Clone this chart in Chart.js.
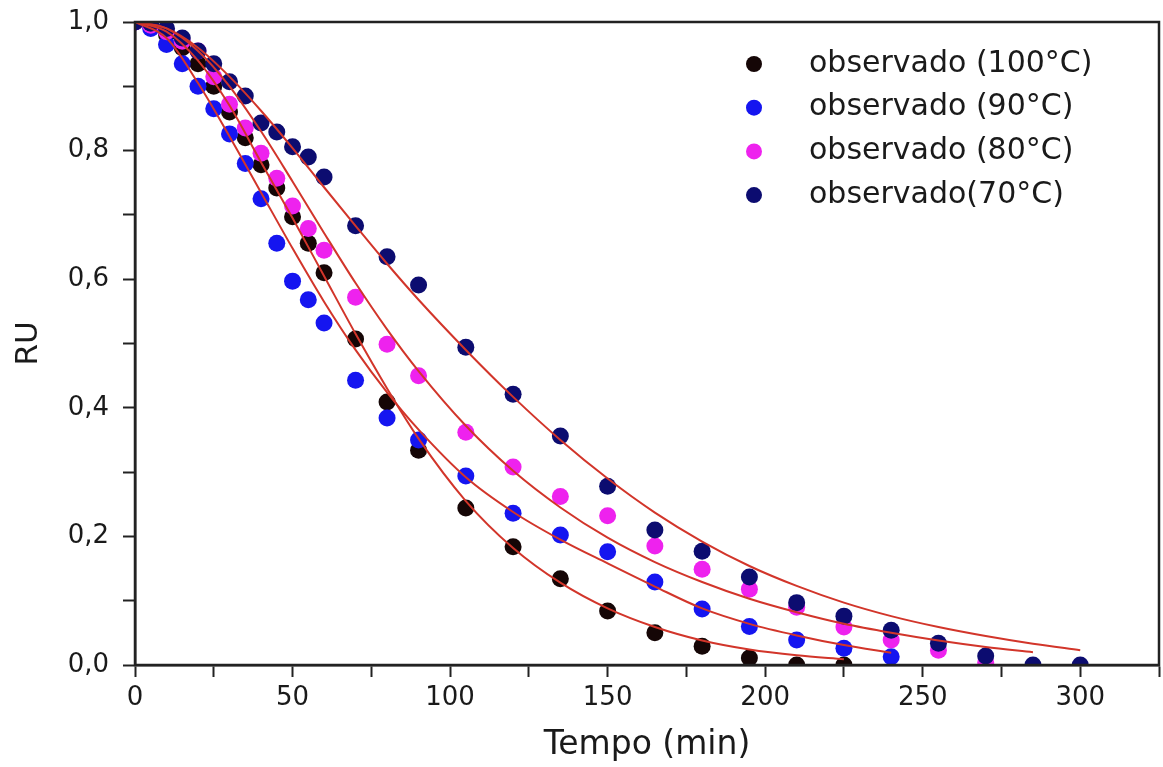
<!DOCTYPE html>
<html>
<head>
<meta charset="utf-8">
<script src="https://cdn.jsdelivr.net/npm/chart.js@4"></script>
<style>
  html, body { margin: 0; padding: 0; background: #ffffff; }
  #box { width: 1163px; height: 767px; position: relative; }
</style>
</head>
<body>
<div id="box"><canvas id="myChart"></canvas></div>
<script>
// observed drying points (RU) per time (min)
var tObs = [0, 5, 10, 15, 20, 25, 30, 35, 40, 45, 50, 55, 60, 70, 80, 90, 105, 120, 135, 150, 165, 180, 195, 210, 225, 240, 255, 270, 285, 300];
var obs100 = [1.0, 0.995, 0.98, 0.96, 0.935, 0.9, 0.86, 0.82, 0.778, 0.742, 0.697, 0.656, 0.61, 0.507, 0.409, 0.334, 0.244, 0.184, 0.134, 0.084, 0.05, 0.029, 0.011, 0.0, 0.0];
var obs90 = [1.0, 0.99, 0.965, 0.935, 0.9, 0.865, 0.826, 0.78, 0.725, 0.656, 0.597, 0.568, 0.532, 0.443, 0.384, 0.35, 0.294, 0.236, 0.202, 0.176, 0.129, 0.087, 0.06, 0.039, 0.026, 0.013];
var obs80 = [1.0, 0.995, 0.985, 0.97, 0.955, 0.915, 0.872, 0.835, 0.796, 0.757, 0.714, 0.679, 0.645, 0.572, 0.499, 0.45, 0.362, 0.308, 0.262, 0.232, 0.185, 0.149, 0.118, 0.09, 0.059, 0.039, 0.023, 0.004];
var obs70 = [1.0, 0.998, 0.99, 0.975, 0.955, 0.935, 0.907, 0.885, 0.843, 0.829, 0.806, 0.79, 0.759, 0.683, 0.635, 0.591, 0.494, 0.421, 0.356, 0.278, 0.21, 0.177, 0.137, 0.097, 0.076, 0.054, 0.034, 0.014, 0.0, 0.0];

// fitted curves (red lines)
var tFit = [0, 10, 20, 30, 40, 50, 60, 70, 80, 90, 105, 120, 135, 150, 165, 180, 195, 210, 225, 240, 255, 270, 285, 300];
var fit100 = [1.0, 0.985, 0.94, 0.87, 0.782, 0.695, 0.605, 0.515, 0.43, 0.352, 0.255, 0.182, 0.128, 0.088, 0.059, 0.038, 0.024, 0.015, 0.009];
var fit90 = [1.0, 0.975, 0.905, 0.822, 0.735, 0.648, 0.565, 0.49, 0.424, 0.366, 0.292, 0.238, 0.195, 0.158, 0.122, 0.088, 0.064, 0.046, 0.031, 0.019];
var fit80 = [1.0, 0.99, 0.955, 0.9, 0.83, 0.752, 0.672, 0.594, 0.522, 0.457, 0.372, 0.302, 0.245, 0.198, 0.16, 0.129, 0.103, 0.082, 0.064, 0.05, 0.038, 0.028, 0.02];
var fit70 = [1.0, 0.99, 0.96, 0.915, 0.862, 0.804, 0.743, 0.683, 0.624, 0.568, 0.49, 0.417, 0.35, 0.29, 0.237, 0.192, 0.154, 0.123, 0.097, 0.076, 0.059, 0.045, 0.033, 0.023];

var labels = ['observado (100°C)', 'observado (90°C)', 'observado (80°C)', 'observado(70°C)'];
var colors = ['#150606', '#1515f0', '#ee22ee', '#0c0c70'];

function toPoints(xs, ys) {
    return ys.map((y, i) => ({ x: xs[i], y: y }));
}

function fitSet(values) {
    return {
        type: 'line',
        data: toPoints(tFit, values),
        borderColor: '#d2352a',
        borderWidth: 2,
        pointRadius: 0,
        fill: false,
        cubicInterpolationMode: 'monotone',
        order: 0
    };
}

function obsSet(label, values, color, order) {
    return {
        label: label,
        data: toPoints(tObs, values),
        backgroundColor: color,
        borderColor: color,
        borderWidth: 0,
        pointRadius: 8.5,
        pointHoverRadius: 8.5,
        order: order
    };
}

// frame round the plot area (top and right sides)
var framePlugin = {
    id: 'frame',
    afterDraw(chart) {
        var a = chart.chartArea;
        var ctx = chart.ctx;
        ctx.save();
        ctx.strokeStyle = '#222222';
        ctx.lineWidth = 2.5;
        ctx.strokeRect(a.left, a.top, a.right - a.left, a.bottom - a.top);
        ctx.restore();
    }
};

// legend drawn inside the plot, top right
var legendPlugin = {
    id: 'innerLegend',
    afterDraw(chart) {
        var a = chart.chartArea;
        var ctx = chart.ctx;
        ctx.save();
        ctx.font = '30px "DejaVu Sans"';
        ctx.textBaseline = 'middle';
        ctx.textAlign = 'left';
        labels.forEach((text, i) => {
            var y = a.top + 42 + i * 43.7;
            ctx.fillStyle = colors[i];
            ctx.beginPath();
            ctx.arc(a.right - 405, y, 8, 0, Math.PI * 2);
            ctx.fill();
            ctx.fillStyle = '#1a1a1a';
            ctx.fillText(text, a.right - 350, y);
        });
        ctx.restore();
    }
};

var ctx = document.getElementById('myChart').getContext('2d');
Chart.defaults.font.family = '"DejaVu Sans", sans-serif';
Chart.defaults.color = '#1a1a1a';

var myChart = new Chart(ctx, {
    type: 'scatter',
    data: {
        datasets: [
            fitSet(fit100),
            fitSet(fit90),
            fitSet(fit80),
            fitSet(fit70),
            obsSet(labels[0], obs100, colors[0], 4),
            obsSet(labels[1], obs90, colors[1], 3),
            obsSet(labels[2], obs80, colors[2], 2),
            obsSet(labels[3], obs70, colors[3], 1)
        ]
    },
    options: {
        responsive: true,
        maintainAspectRatio: false,
        animation: false,
        layout: { autoPadding: false, padding: { top: 22, right: 4, left: 0, bottom: 0 } },
        plugins: {
            legend: { display: false },
            tooltip: { enabled: false }
        },
        scales: {
            x: {
                type: 'linear',
                min: 0,
                max: 325,
                afterFit: scale => { scale.height = 102; scale.paddingRight = 0; },
                grid: { display: true, drawOnChartArea: false, drawTicks: true, tickLength: 12, tickColor: '#222222', tickWidth: 2 },
                border: { display: true, color: '#222222', width: 2.5 },
                ticks: {
                    stepSize: 25,
                    padding: 6,
                    maxRotation: 0,
                    autoSkip: false,
                    font: { size: 26 },
                    callback: value => (value % 50 === 0 && value <= 300 ? String(value) : '')
                },
                title: { display: true, text: 'Tempo (min)', font: { size: 33 }, padding: { top: 0, bottom: 2 } }
            },
            y: {
                type: 'linear',
                min: 0,
                max: 1,
                afterFit: scale => { scale.width = 135; scale.paddingTop = 0; scale.paddingBottom = 0; },
                grid: { display: true, drawOnChartArea: false, drawTicks: true, tickLength: 12, tickColor: '#222222', tickWidth: 2 },
                border: { display: true, color: '#222222', width: 2.5 },
                ticks: {
                    stepSize: 0.1,
                    padding: 14,
                    autoSkip: false,
                    font: { size: 26 },
                    callback: value => (Math.round(value * 10) % 2 === 0 ? value.toFixed(1).replace('.', ',') : '')
                },
                title: { display: true, text: 'RU', font: { size: 31 }, padding: { top: 10, bottom: 0 } }
            }
        }
    },
    plugins: [framePlugin, legendPlugin]
});
</script>
</body>
</html>
